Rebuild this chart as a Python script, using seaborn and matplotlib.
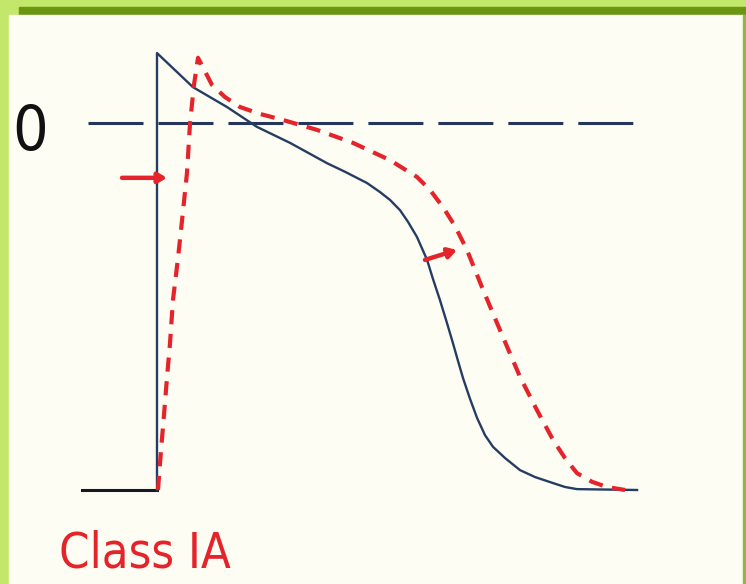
import numpy as np
import pandas as pd
import seaborn as sns
import matplotlib.pyplot as plt
from matplotlib.patches import Rectangle

# control action potential (ms, mV)
ctrl_t = [0, 0, 25.7, 50, 71.4, 95, 121.4, 134.3, 150, 159.3, 166.4, 173.6, 179.3,
          185.7, 192.9, 197.1, 202.1, 207.1, 211.4, 215, 218.6, 223.6, 228.6,
          234.3, 240, 248.6, 259.3, 270, 282.9, 291.4, 300, 342.9]
ctrl_v = [-85, 16.2, 8.3, 3.7, -0.9, -4.6, -9.3, -11.3, -13.9, -16.0, -17.8, -20.2, -22.9,
          -26.4, -31.7, -36.1, -41.0, -46.3, -51.0, -55.1, -59.1, -63.9, -68.3,
          -72.3, -75.0, -77.6, -80.4, -82.0, -83.4, -84.3, -84.8, -85]

# resting segment before the upstroke
rest_t = [-53.6, 0]
rest_v = [-85, -85]

# class IA drug: slower upstroke, longer plateau
drug_t = [0.7, 2.9, 5, 7.1, 9.3, 11.4, 15, 17.9, 21.4, 23.6, 26.4, 29.3, 39.3, 48.6,
          59.3, 73.6, 90, 114.3, 140, 166.4, 185.7, 195, 204.3, 212.9, 221.4, 232.1,
          241.4, 250.7, 259.3, 271.4, 282.9, 291.4, 300, 310.7, 321.4, 334.3]
drug_v = [-85, -75.7, -67.6, -59.1, -51.0, -41.0, -31.3, -22.5, -11.6, 0, 8.8, 15.1,
          8.8, 6.0, 3.7, 2.1, 0.7, -1.6, -4.6, -8.6, -12.5, -15.5, -19.5, -23.9,
          -29.4, -38.0, -45.2, -52.3, -58.8, -66.5, -73.4, -77.6, -81.1, -83.1,
          -84.3, -85]

zero_t = [-49.3, 345]
zero_v = [0, 0]

ctrl = pd.DataFrame({'t': ctrl_t, 'v': ctrl_v})
drug = pd.DataFrame({'t': drug_t, 'v': drug_v})

W, H = 746, 584
fig = plt.figure(figsize=(W / 100, H / 100), dpi=100)
fig.patch.set_facecolor('#c3e76a')

# green slide frame + cream panel
fig.add_artist(Rectangle((19 / W, 1 - 15 / H), 727 / W, 8 / H,
                         transform=fig.transFigure, color='#6a9612', zorder=0))
fig.add_artist(Rectangle((9 / W, 0), 734 / W, 569 / H,
                         transform=fig.transFigure, color='#fdfdf4', zorder=0))
fig.add_artist(Rectangle((743 / W, 0), 3 / W, 569 / H,
                         transform=fig.transFigure, color='#8dba3c', zorder=0))

ax = fig.add_axes([0, 0, 1, 1])
ax.patch.set_alpha(0)
ax.set_xlim((0 - 157) / 1.4, (W - 157) / 1.4)
ax.set_ylim((123 - H) / 4.3176, 123 / 4.3176)
ax.axis('off')

navy = '#263d63'
red = '#e5232b'

sns.lineplot(x=zero_t, y=zero_v, ax=ax, color='#24375a', lw=2.2, sort=False,
             linestyle=(0, (18, 4.9)))
sns.lineplot(x=rest_t, y=rest_v, ax=ax, color='#151a22', lw=2.2, sort=False)
sns.lineplot(data=ctrl, x='t', y='v', ax=ax, color=navy, lw=1.7, sort=False,
             estimator=None)
sns.lineplot(data=drug, x='t', y='v', ax=ax, color=red, lw=3.0, sort=False,
             estimator=None, linestyle=(0, (3.4, 2.3)))

arrow = dict(arrowstyle='-|>,head_length=0.5,head_width=0.3', color=red, lw=3.2,
             shrinkA=0, shrinkB=0)
ax.annotate('', xy=(7.1, -12.7), xytext=(-25, -12.7), arrowprops=arrow)
ax.annotate('', xy=(214.3, -29.4), xytext=(191.4, -31.7), arrowprops=arrow)

fig.text(30 / W, 1 - 133 / H, '0', fontsize=45, family='DejaVu Sans',
         fontstretch='condensed', color='#111111', ha='center', va='center')
fig.text(59 / W, 1 - 568 / H, 'Class IA', fontsize=35, family='DejaVu Sans',
         fontstretch='condensed', color=red, ha='left', va='baseline')

fig.savefig('out.png', dpi=100)
